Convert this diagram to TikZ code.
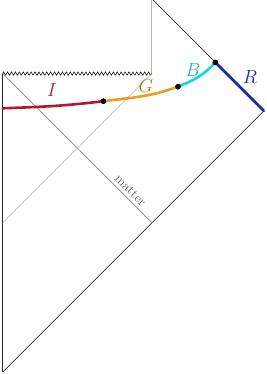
\documentclass[tikz,border=0pt]{standalone}
\usepackage{amsmath,amssymb}
\usepackage{tikz}
\usetikzlibrary{decorations.pathmorphing}
\usepackage{xcolor}
\definecolor{colI}{RGB}{178,24,52}
\definecolor{colG}{RGB}{232,160,32}
\definecolor{colGtext}{RGB}{150,140,20}
\definecolor{colB}{RGB}{20,215,220}
\definecolor{colBtext}{RGB}{40,170,205}
\definecolor{colR}{RGB}{20,40,175}

\begin{document}
\begin{tikzpicture}[line cap=round,font=\Large,wedge/.style={line width=2pt}]
\useasboundingbox (-0.072,-0.054) rectangle (7.086,9.973);
\coordinate (bot) at (0,0);
\coordinate (singL) at (0,8);
\coordinate (singR) at (4,8);
\coordinate (top) at (4,10);
\coordinate (corner) at (7,7);
\coordinate (midL) at (0,4);
\coordinate (matterEnd) at (4,4);
\coordinate (c0) at (0,7.07);
\coordinate (c1) at (2.7,7.26);
\coordinate (c2) at (4.7,7.65);
\coordinate (c3) at (5.7,8.3);
\draw[gray!30!black] (singL) -- (bot);
\draw (bot) -- (corner) -- (top);
\draw[gray!60,thick] (top) -- (singR);
\draw[decorate,decoration={zigzag,segment length=1.05mm,amplitude=0.45mm}] (singL) -- (singR);
\draw[gray!70,thick] (singL) -- node[pos=0.82,above=-1pt,sloped,font=\normalsize,text=gray!80!black] {matter} (matterEnd);
\draw[gray!60,thin] (midL) -- (singR);
\draw[colR,wedge] (c3) -- (corner);
\draw[colI,wedge] (c0) to[out=2,in=187] (c1);
\draw[colG,wedge] (c1) to[out=7,in=200] (c2);
\draw[colB,wedge] (c2) to[out=22,in=228] (c3);
\fill (c1) circle (2.2pt);
\fill (c2) circle (2.2pt);
\fill (c3) circle (2.2pt);
\node[text=colI] (labI) at (1.32,7.56) {$I$};
\node[text=colGtext] (labG) at (3.84,7.67) {$G$};
\node[text=colBtext] (labB) at (5.1,8.1) {$B$};
\node[text=colR] (labR) at (6.63,7.91) {$R$};
\end{tikzpicture}
\end{document}
